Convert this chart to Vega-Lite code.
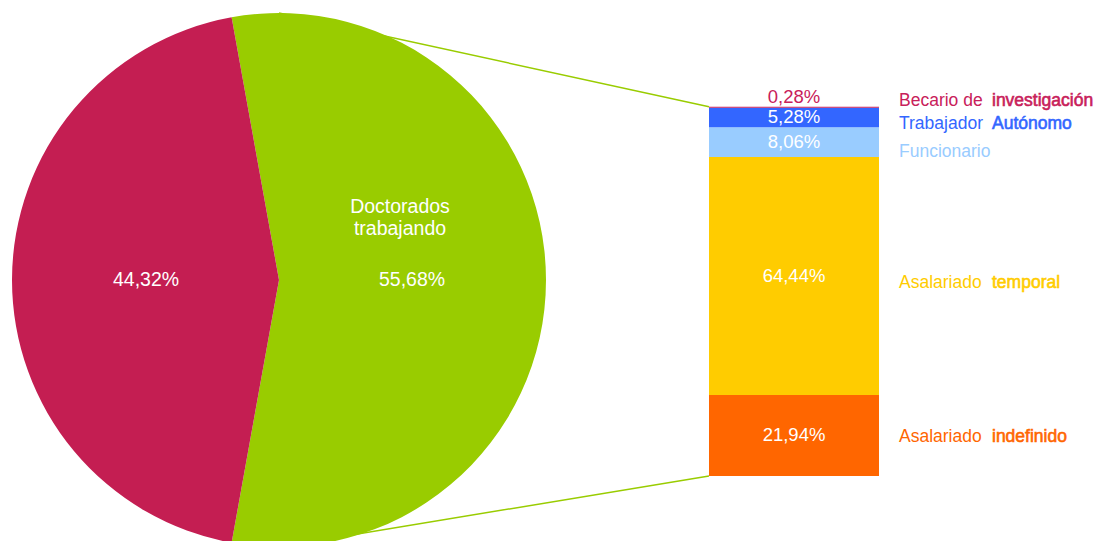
{
  "$schema": "https://vega.github.io/schema/vega-lite/v6.json",
  "width": 1100,
  "height": 541,
  "padding": 0,
  "autosize": {"type": "none"},
  "background": "white",
  "config": {
    "view": {"stroke": null},
    "axis": {"disable": true},
    "legend": {"disable": true},
    "locale": {"number": {"decimal": ",", "thousands": ".", "grouping": [3], "currency": ["", " €"]}},
    "text": {"font": "Liberation Sans", "fontSize": 17.5}
  },
  "datasets": {
    "pastel": [
      {"categoria": "Doctorados trabajando", "nombre": "Doctorados\ntrabajando", "valor": 0.5568, "orden": 1},
      {"categoria": "Doctorados no trabajando", "nombre": "", "valor": 0.4432, "orden": 2}
    ],
    "barras": [
      {"categoria": "Asalariado indefinido", "parte1": "Asalariado", "parte2": "indefinido", "valor": 0.2194, "orden": 1},
      {"categoria": "Asalariado temporal", "parte1": "Asalariado", "parte2": "temporal", "valor": 0.6444, "orden": 2},
      {"categoria": "Funcionario", "parte1": "Funcionario", "parte2": "", "valor": 0.0806, "orden": 3},
      {"categoria": "Trabajador Autónomo", "parte1": "Trabajador", "parte2": "Autónomo", "valor": 0.0528, "orden": 4},
      {"categoria": "Becario de investigación", "parte1": "Becario de", "parte2": "investigación", "valor": 0.0028, "orden": 5}
    ],
    "conectores": [
      {"conector": "superior"}
    ]
  },
  "resolve": {"scale": {"y": "independent", "color": "independent"}},
  "layer": [
    {
      "data": {"name": "conectores"},
      "mark": {"type": "rule", "color": "#99CC00", "strokeWidth": 1.5},
      "encoding": {
        "x": {"datum": 279, "type": "quantitative", "scale": {"domain": [0, 1100], "nice": false, "zero": false}, "axis": null},
        "x2": {"datum": 709},
        "y": {"datum": 13, "type": "quantitative", "scale": {"domain": [0, 541], "nice": false, "zero": false, "reverse": true}, "axis": null},
        "y2": {"datum": 106.7}
      }
    },
    {
      "data": {"name": "conectores"},
      "mark": {"type": "rule", "color": "#99CC00", "strokeWidth": 1.5},
      "encoding": {
        "x": {"datum": 279, "type": "quantitative", "scale": {"domain": [0, 1100], "nice": false, "zero": false}, "axis": null},
        "x2": {"datum": 709},
        "y": {"datum": 547, "type": "quantitative", "scale": {"domain": [0, 541], "nice": false, "zero": false, "reverse": true}, "axis": null},
        "y2": {"datum": 476}
      }
    },
    {
      "data": {"name": "pastel"},
      "encoding": {
        "theta": {"field": "valor", "type": "quantitative", "stack": true, "scale": {"range": [-0.17844, 6.10475]}},
        "order": {"field": "orden", "type": "quantitative"},
        "color": {"field": "categoria", "type": "nominal", "scale": {"domain": ["Doctorados trabajando", "Doctorados no trabajando"], "range": ["#99CC00", "#C41E52"]}, "legend": null},
        "x": {"datum": 279, "type": "quantitative", "scale": {"domain": [0, 1100], "nice": false, "zero": false}, "axis": null},
        "y": {"datum": 280, "type": "quantitative", "scale": {"domain": [0, 541], "nice": false, "zero": false, "reverse": true}, "axis": null}
      },
      "layer": [
        {"mark": {"type": "arc", "outerRadius": 267}},
        {
          "mark": {"type": "text", "radius": 133, "align": "center", "baseline": "middle", "fontSize": 19.5},
          "encoding": {"text": {"field": "valor", "type": "quantitative", "format": ".2%"}, "color": {"value": "white"}}
        },
        {
          "mark": {"type": "text", "radius": 121, "dy": -73, "align": "center", "baseline": "middle", "lineBreak": "\n", "lineHeight": 22, "fontSize": 19.5},
          "encoding": {"text": {"field": "nombre", "type": "nominal"}, "color": {"value": "white"}}
        }
      ]
    },
    {
      "data": {"name": "barras"},
      "transform": [
        {"stack": "valor", "groupby": [], "sort": [{"field": "orden", "order": "ascending"}], "as": ["y0", "y1"]},
        {"fold": ["y0", "y1"], "as": ["extremo", "pos"]},
        {"joinaggregate": [{"op": "mean", "field": "pos", "as": "mid"}], "groupby": ["categoria"]},
        {"filter": "datum.extremo == 'y0'"}
      ],
      "encoding": {
        "color": {"field": "categoria", "type": "nominal", "scale": {"domain": ["Asalariado indefinido", "Asalariado temporal", "Funcionario", "Trabajador Autónomo", "Becario de investigación"], "range": ["#FF6600", "#FFCC00", "#99CCFF", "#3366FF", "#C8205A"]}, "legend": null}
      },
      "layer": [
        {
          "mark": {"type": "rect"},
          "encoding": {
            "x": {"datum": 709, "type": "quantitative", "scale": {"domain": [0, 1100], "nice": false, "zero": false}, "axis": null},
            "x2": {"datum": 879},
            "y": {"field": "y0", "type": "quantitative", "scale": {"domain": [-0.176, 1.2889], "nice": false, "zero": false}, "axis": null},
            "y2": {"field": "y1"}
          }
        },
        {
          "transform": [{"filter": "datum.valor > 0.01"}],
          "mark": {"type": "text", "align": "center", "baseline": "middle", "fontSize": 18.5},
          "encoding": {
            "x": {"datum": 794, "type": "quantitative", "scale": {"domain": [0, 1100], "nice": false, "zero": false}, "axis": null},
            "y": {"field": "mid", "type": "quantitative", "scale": {"domain": [-0.176, 1.2889], "nice": false, "zero": false}, "axis": null},
            "text": {"field": "valor", "type": "quantitative", "format": ".2%"},
            "color": {"value": "white"}
          }
        },
        {
          "transform": [{"filter": "datum.valor < 0.01"}],
          "mark": {"type": "text", "align": "center", "baseline": "middle", "dy": -10, "fontSize": 18.5},
          "encoding": {
            "x": {"datum": 794, "type": "quantitative", "scale": {"domain": [0, 1100], "nice": false, "zero": false}, "axis": null},
            "y": {"field": "y1", "type": "quantitative", "scale": {"domain": [-0.176, 1.2889], "nice": false, "zero": false}, "axis": null},
            "text": {"field": "valor", "type": "quantitative", "format": ".2%"}
          }
        },
        {
          "transform": [{"filter": {"field": "categoria", "equal": "Becario de investigación"}}],
          "mark": {"type": "text", "align": "left", "baseline": "middle", "dy": -6.5},
          "encoding": {
            "x": {"datum": 899, "type": "quantitative", "scale": {"domain": [0, 1100], "nice": false, "zero": false}, "axis": null},
            "y": {"field": "mid", "type": "quantitative", "scale": {"domain": [-0.176, 1.2889], "nice": false, "zero": false}, "axis": null},
            "text": {"field": "parte1", "type": "nominal"}
          }
        },
        {
          "transform": [{"filter": {"field": "categoria", "equal": "Becario de investigación"}}],
          "mark": {"type": "text", "align": "left", "baseline": "middle", "dy": -6.5, "strokeWidth": 0.6},
          "encoding": {
            "x": {"datum": 992, "type": "quantitative", "scale": {"domain": [0, 1100], "nice": false, "zero": false}, "axis": null},
            "y": {"field": "mid", "type": "quantitative", "scale": {"domain": [-0.176, 1.2889], "nice": false, "zero": false}, "axis": null},
            "text": {"field": "parte2", "type": "nominal"},
            "stroke": {"field": "categoria", "type": "nominal", "scale": {"domain": ["Asalariado indefinido", "Asalariado temporal", "Funcionario", "Trabajador Autónomo", "Becario de investigación"], "range": ["#FF6600", "#FFCC00", "#99CCFF", "#3366FF", "#C8205A"]}, "legend": null}
          }
        },
        {
          "transform": [{"filter": {"field": "categoria", "oneOf": ["Trabajador Autónomo", "Asalariado temporal"]}}],
          "mark": {"type": "text", "align": "left", "baseline": "middle", "dy": 7},
          "encoding": {
            "x": {"datum": 899, "type": "quantitative", "scale": {"domain": [0, 1100], "nice": false, "zero": false}, "axis": null},
            "y": {"field": "mid", "type": "quantitative", "scale": {"domain": [-0.176, 1.2889], "nice": false, "zero": false}, "axis": null},
            "text": {"field": "parte1", "type": "nominal"}
          }
        },
        {
          "transform": [{"filter": {"field": "categoria", "oneOf": ["Trabajador Autónomo", "Asalariado temporal"]}}],
          "mark": {"type": "text", "align": "left", "baseline": "middle", "dy": 7, "strokeWidth": 0.6},
          "encoding": {
            "x": {"datum": 992, "type": "quantitative", "scale": {"domain": [0, 1100], "nice": false, "zero": false}, "axis": null},
            "y": {"field": "mid", "type": "quantitative", "scale": {"domain": [-0.176, 1.2889], "nice": false, "zero": false}, "axis": null},
            "text": {"field": "parte2", "type": "nominal"},
            "stroke": {"field": "categoria", "type": "nominal", "scale": {"domain": ["Asalariado indefinido", "Asalariado temporal", "Funcionario", "Trabajador Autónomo", "Becario de investigación"], "range": ["#FF6600", "#FFCC00", "#99CCFF", "#3366FF", "#C8205A"]}, "legend": null}
          }
        },
        {
          "transform": [{"filter": {"field": "categoria", "equal": "Funcionario"}}],
          "mark": {"type": "text", "align": "left", "baseline": "middle", "dy": 10},
          "encoding": {
            "x": {"datum": 899, "type": "quantitative", "scale": {"domain": [0, 1100], "nice": false, "zero": false}, "axis": null},
            "y": {"field": "mid", "type": "quantitative", "scale": {"domain": [-0.176, 1.2889], "nice": false, "zero": false}, "axis": null},
            "text": {"field": "parte1", "type": "nominal"}
          }
        },
        {
          "transform": [{"filter": {"field": "categoria", "equal": "Asalariado indefinido"}}],
          "mark": {"type": "text", "align": "left", "baseline": "middle", "dy": 1.5},
          "encoding": {
            "x": {"datum": 899, "type": "quantitative", "scale": {"domain": [0, 1100], "nice": false, "zero": false}, "axis": null},
            "y": {"field": "mid", "type": "quantitative", "scale": {"domain": [-0.176, 1.2889], "nice": false, "zero": false}, "axis": null},
            "text": {"field": "parte1", "type": "nominal"}
          }
        },
        {
          "transform": [{"filter": {"field": "categoria", "equal": "Asalariado indefinido"}}],
          "mark": {"type": "text", "align": "left", "baseline": "middle", "dy": 1.5, "strokeWidth": 0.6},
          "encoding": {
            "x": {"datum": 992, "type": "quantitative", "scale": {"domain": [0, 1100], "nice": false, "zero": false}, "axis": null},
            "y": {"field": "mid", "type": "quantitative", "scale": {"domain": [-0.176, 1.2889], "nice": false, "zero": false}, "axis": null},
            "text": {"field": "parte2", "type": "nominal"},
            "stroke": {"field": "categoria", "type": "nominal", "scale": {"domain": ["Asalariado indefinido", "Asalariado temporal", "Funcionario", "Trabajador Autónomo", "Becario de investigación"], "range": ["#FF6600", "#FFCC00", "#99CCFF", "#3366FF", "#C8205A"]}, "legend": null}
          }
        }
      ]
    }
  ]
}
